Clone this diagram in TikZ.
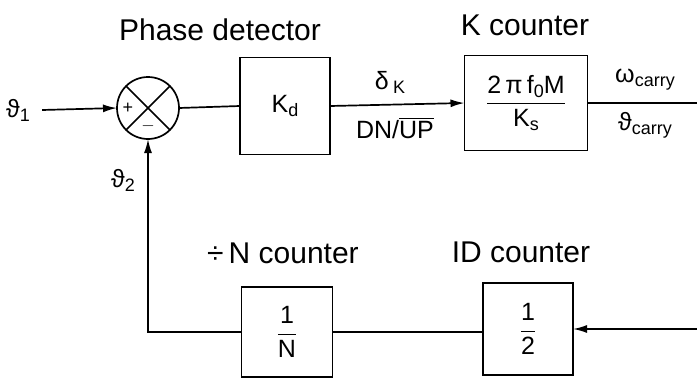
\documentclass[tikz,border=0pt]{standalone}
\usepackage{amsmath}
\usepackage{fontspec}
\setmainfont{Liberation Sans}
\usetikzlibrary{arrows.meta}

\newcommand{\lowsub}[1]{\raisebox{-4pt}{\fontsize{18}{20}\selectfont #1}}

\begin{document}
\begin{tikzpicture}[x=1pt, y=-1pt, line width=1.7pt,
    block/.style={draw, line width=1.7pt, inner sep=0pt, outer sep=0pt},
    title/.style={anchor=base, font=\fontsize{30}{34}\selectfont},
    lbl/.style={font=\fontsize{25}{29}\selectfont},
    arr/.style={-{Latex[length=14pt,width=8pt]}}]
    \useasboundingbox (0,0) rectangle (697,383);

    % Summing junction
    \node[draw, circle, line width=1.7pt, minimum size=62pt, inner sep=0pt, outer sep=0pt] (sum) at (148,108) {};
    \draw (sum.north east) -- (sum.south west);
    \draw (sum.north west) -- (sum.south east);
    \node[font=\fontsize{18}{20}\selectfont] (plus) at ([xshift=-20pt]sum.center) {+};
    \node[font=\fontsize{18}{20}\selectfont] (minus) at ([yshift=-18pt]sum.center) {$-$};

    % Blocks
    \node[block, minimum width=90pt, minimum height=97pt, lbl] (kd) at (285,106) {K\lowsub{d}};
    \node[block, minimum width=123pt, minimum height=95pt, lbl] (kc) at (526,103)
        {$\dfrac{\text{2\,π\,f\lowsub{0}M}}{\text{K\lowsub{s}}}$};
    \node[block, minimum width=91pt, minimum height=90pt, lbl] (nc) at (287,332) {$\dfrac{\text{1}}{\text{N}}$};
    \node[block, minimum width=90pt, minimum height=92pt, lbl] (idc) at (528,329) {$\dfrac{\text{1}}{\text{2}}$};

    % Titles
    \node[title] (tpd) at (220,40) {Phase detector};
    \node[title] (tkc) at (525,35) {K counter};
    \node[title] (tnc) at (283,263) {÷\,N counter};
    \node[title] (tid) at (521,262) {ID counter};

    % Signals
    \node[lbl] (th1) at (18,110) {ϑ\lowsub{1}};
    \node[lbl] (th2) at (123,180) {ϑ\lowsub{2}};
    \coordinate (out) at (697,103);
    \coordinate (in) at (697,329);

    % Connectors
    \draw[arr] ([xshift=8pt]th1.east) -- (sum.west);
    \draw (sum.east) -- (kd.west);
    \draw[arr] (kd.east) -- (kc.west);
    \draw (kc.east) -- (out);
    \draw[arr] (in) -- (idc.east);
    \draw (idc.west) -- (nc.west -| idc.west) -- (nc.east);
    \draw[arr] (nc.west) -| (sum.south);

    % Connector labels
    \node[lbl] (dk) at (390,82) {δ\,\lowsub{K}};
    \node[lbl] (dnup) at (395,128) {DN/$\overline{\text{UP}}$};
    \node[lbl] (wc) at (645,80) {ω\lowsub{carry}};
    \node[lbl] (tc) at (645,125) {ϑ\lowsub{carry}};
\end{tikzpicture}
\end{document}
